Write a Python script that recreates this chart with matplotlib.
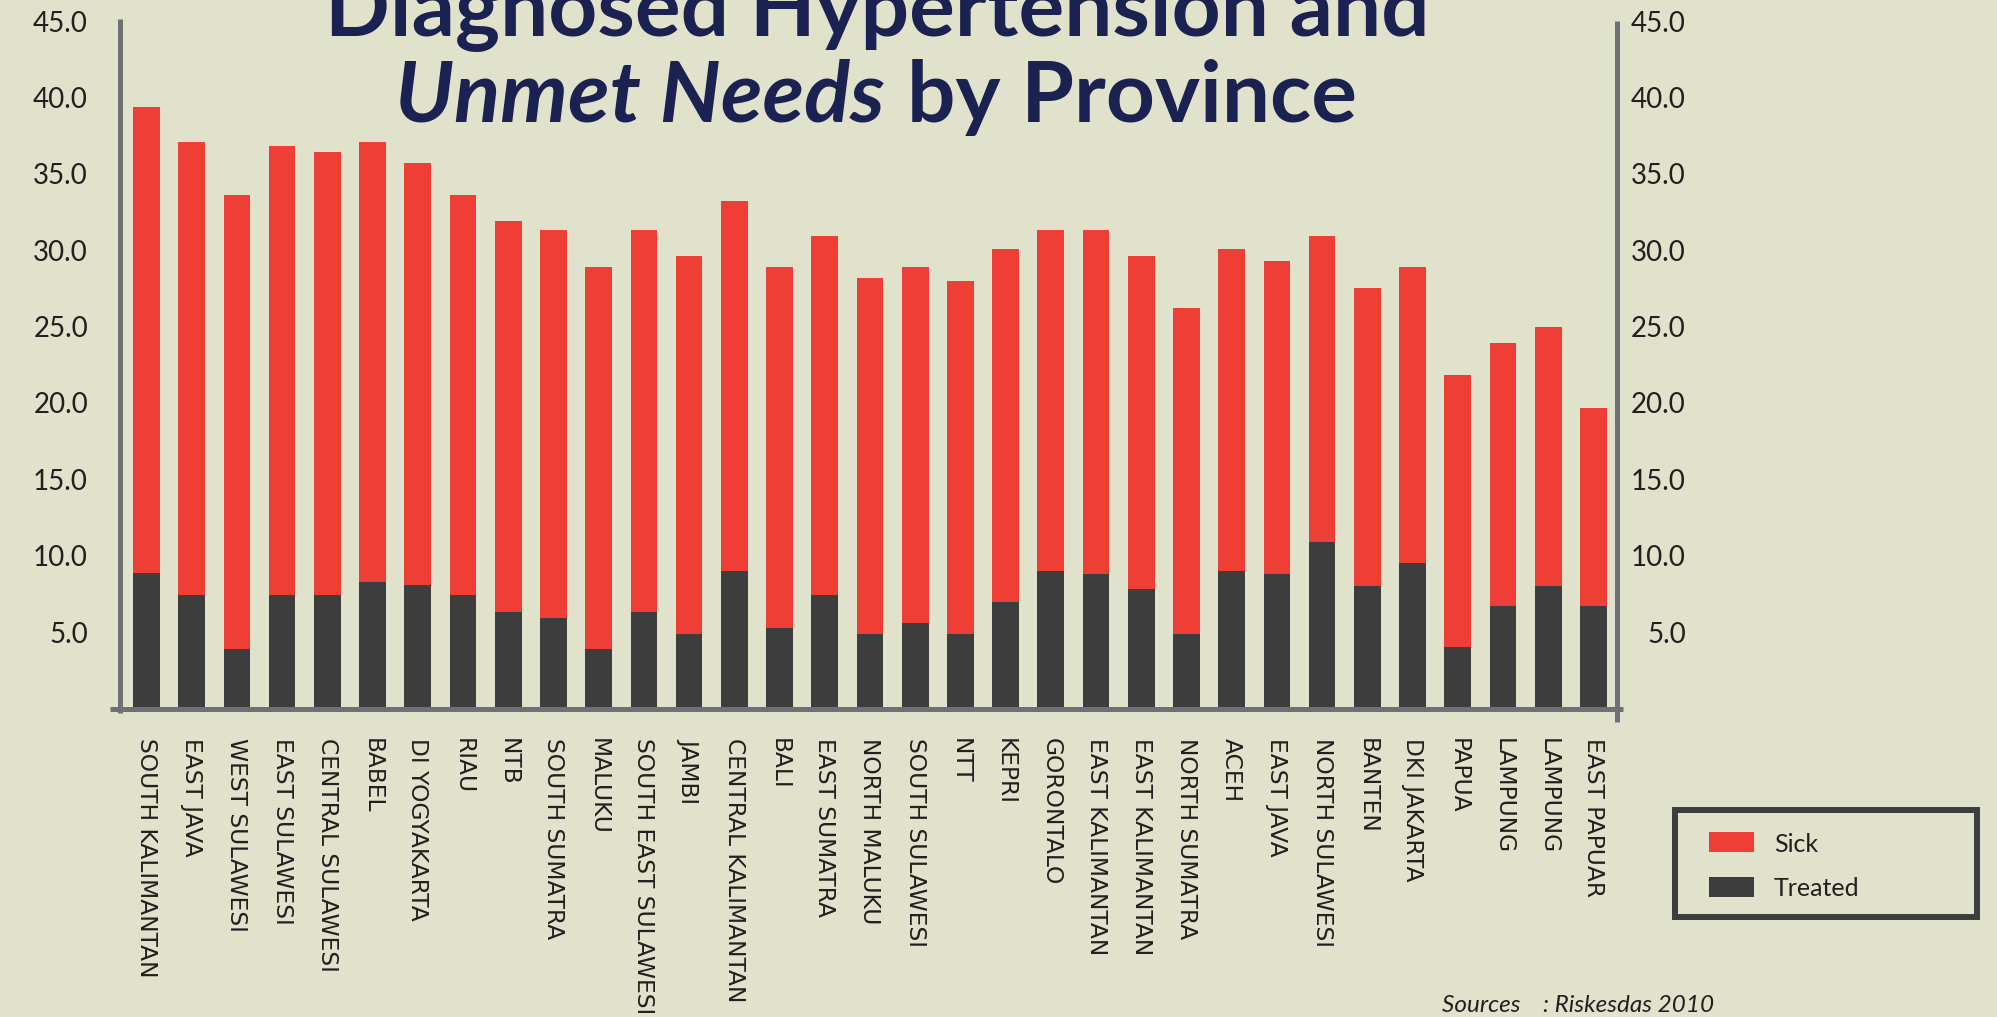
import matplotlib
matplotlib.use("Agg")
import matplotlib.pyplot as plt
from matplotlib.patches import Rectangle
from matplotlib.lines import Line2D
from matplotlib import font_manager as fm
import numpy as np

# ---------------- data ----------------
provinces = ["SOUTH KALIMANTAN", "EAST JAVA", "WEST SULAWESI", "EAST SULAWESI",
             "CENTRAL SULAWESI", "BABEL", "DI YOGYAKARTA", "RIAU", "NTB",
             "SOUTH SUMATRA", "MALUKU", "SOUTH EAST SULAWESI", "JAMBI",
             "CENTRAL KALIMANTAN", "BALI", "EAST SUMATRA", "NORTH MALUKU",
             "SOUTH SULAWESI", "NTT", "KEPRI", "GORONTALO", "EAST KALIMANTAN",
             "EAST KALIMANTAN", "NORTH SUMATRA", "ACEH", "EAST JAVA",
             "NORTH SULAWESI", "BANTEN", "DKI JAKARTA", "PAPUA", "LAMPUNG",
             "LAMPUNG", "EAST PAPUAR"]
sick = [39.4, 37.1, 33.6, 36.8, 36.4, 37.1, 35.7, 33.6, 31.9, 31.3,
        28.9, 31.3, 29.6, 33.2, 28.9, 30.9, 28.2, 28.9, 28.0, 30.1,
        31.3, 31.3, 29.6, 26.2, 30.1, 29.3, 30.9, 27.5, 28.9, 21.8,
        23.9, 25.0, 19.7]
treated = [8.9, 7.4, 3.9, 7.4, 7.4, 8.3, 8.1, 7.4, 6.3, 5.9,
           3.9, 6.3, 4.9, 9.0, 5.3, 7.4, 4.9, 5.6, 4.9, 7.0,
           9.0, 8.8, 7.8, 4.9, 9.0, 8.8, 10.9, 8.0, 9.5, 4.0,
           6.7, 8.0, 6.7]
yticks = [5, 10, 15, 20, 25, 30, 35, 40, 45]
series_names = ["Sick", "Treated"]
title_line1 = "Diagnosed Hypertension and"
title_italic = "Unmet Needs"
title_rest = "by Province"
source_text = "Sources    : Riskesdas 2010"

# ---------------- style ----------------
BG = "#e1e2cb"
RED = "#ef3e36"
DARK = "#3d3d3d"
AXIS = "#6f7073"
NAVY = "#1b2150"
TXT = "#231f20"


def pick(fams, **kw):
    for f in fams:
        try:
            fm.findfont(fm.FontProperties(family=f, **kw), fallback_to_default=False)
            return f
        except Exception:
            pass
    return "DejaVu Sans"


HUM = pick(["Lato", "Open Sans", "Noto Sans"], weight="bold")

W, H = 1997, 1017
fig = plt.figure(figsize=(W / 100, H / 100), dpi=100)
fig.patch.set_facecolor(BG)

# axes placement (pixels): left spine 120, right spine 1617, zero at 708.5, 45 at 21
ax = fig.add_axes([120 / W, (H - 708.5) / H, 1497 / W, 687.5 / H])
ax.set_facecolor("none")
x = np.arange(len(provinces))
ax.set_xlim(-0.584, 32.52)
ax.set_ylim(0, 45)

ax.bar(x, sick, width=0.59, color=RED, zorder=2, label=series_names[0])
ax.bar(x, treated, width=0.59, color=DARK, zorder=3, label=series_names[1])

for s in ax.spines.values():
    s.set_visible(False)

lw = 3.6
ax.add_line(Line2D([0, 0], [-4.5 / 687.5, 1.003], transform=ax.transAxes, lw=lw,
                   color=AXIS, clip_on=False, solid_capstyle="butt", zorder=5))
ax.add_line(Line2D([1, 1], [-13 / 687.5, 1.0], transform=ax.transAxes, lw=lw,
                   color=AXIS, clip_on=False, solid_capstyle="butt", zorder=5))
ax.add_line(Line2D([-10 / 1497, 1 + 6 / 1497], [0, 0], transform=ax.transAxes, lw=lw,
                   color=AXIS, clip_on=False, solid_capstyle="butt", zorder=5))

ax.set_yticks(yticks)
ax.set_yticklabels([f"{v:.1f}" for v in yticks])
ax.tick_params(axis="y", length=0, pad=23, labelsize=20, labelcolor=TXT)
for lb in ax.get_yticklabels():
    lb.set_family(HUM)

ax2 = ax.twinx()
ax2.set_ylim(0, 45)
ax2.set_facecolor("none")
for s in ax2.spines.values():
    s.set_visible(False)
ax2.set_yticks(yticks)
ax2.set_yticklabels([f"{v:.1f}" for v in yticks])
ax2.tick_params(axis="y", length=0, pad=49.5, labelsize=20, labelcolor=TXT)
for lb in ax2.get_yticklabels():
    lb.set_family(HUM)
    lb.set_horizontalalignment("right")

ax.set_xticks(x)
ax.set_xticklabels(provinces, rotation=270, fontsize=16.8, color=TXT,
                   family="DejaVu Sans")
ax.tick_params(axis="x", length=0, pad=21)

# ---------------- title ----------------
renderer = fig.canvas.get_renderer()


def width_px(t):
    return t.get_window_extent(renderer).width


t1 = fig.text(877 / W, (H - 35) / H, title_line1, ha="center", va="baseline",
              fontsize=60, weight="bold", color=NAVY, family=HUM)
fs = 60 * 1104 / width_px(t1)
t1.set_fontsize(fs)

ta = fig.text(0, (H - 122) / H, title_italic, ha="left", va="baseline",
              fontsize=fs, weight="bold", style="italic", color=NAVY, family=HUM)
tb = fig.text(0, (H - 122) / H, title_rest, ha="left", va="baseline",
              fontsize=fs, weight="bold", color=NAVY, family=HUM)
wa, wb = width_px(ta), width_px(tb)
gap = 0.27 * fs * 100 / 72
start = 876 - (wa + gap + wb) / 2
ta.set_x(start / W)
tb.set_x((start + wa + gap) / W)

# ---------------- legend ----------------
fig.add_artist(Rectangle((1675 / W, (H - 917) / H), 302 / W, 107 / H,
                         transform=fig.transFigure, facecolor="none",
                         edgecolor=DARK, lw=4.3))
for i, (name, col) in enumerate(zip(series_names, [RED, DARK])):
    yc = 842 + 45 * i
    fig.add_artist(Rectangle((1709 / W, (H - yc - 10) / H), 45 / W, 20 / H,
                             transform=fig.transFigure, facecolor=col, edgecolor="none"))
    fig.text(1774 / W, (H - yc) / H, name, ha="left", va="center_baseline",
             fontsize=18, color=TXT, family=HUM)

# ---------------- source ----------------
fig.text(1442 / W, (H - 1012) / H, source_text, ha="left", va="baseline",
         fontsize=17.5, style="italic", color=TXT, family=HUM)

fig.savefig("out.png", dpi=100, facecolor=BG)
